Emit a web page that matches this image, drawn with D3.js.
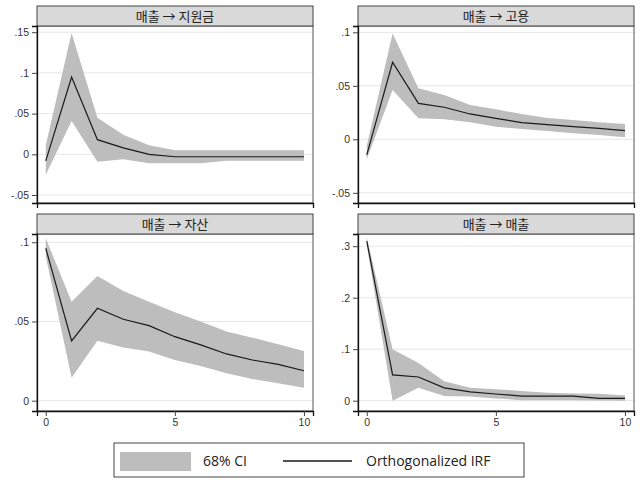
<!DOCTYPE html>
<html>
<head>
<meta charset="utf-8">
<script src="https://cdn.jsdelivr.net/npm/d3@7"></script>
<style>
  body { margin: 0; background: #fff; }
  svg { display: block; }
  .tick text { font-family: 'Liberation Sans', Arial, sans-serif; font-size: 10.5px; fill: #333; }
</style>
</head>
<body>
<div class="canvas"></div>
<script>
const steps = [0, 1, 2, 3, 4, 5, 6, 7, 8, 9, 10]

// 매출 -> 지원금
const grantIrf = [-0.008, 0.095, 0.018, 0.008, 0.0, -0.003, -0.003, -0.003, -0.003, -0.003, -0.003]
const grantLo = [-0.025, 0.041, -0.009, -0.006, -0.011, -0.011, -0.011, -0.008, -0.008, -0.008, -0.008]
const grantHi = [0.011, 0.149, 0.045, 0.024, 0.011, 0.005, 0.005, 0.005, 0.005, 0.005, 0.005]

// 매출 -> 고용
const jobsIrf = [-0.0146, 0.072, 0.0336, 0.030, 0.0237, 0.0196, 0.0156, 0.0137, 0.0118, 0.0103, 0.0081]
const jobsLo = [-0.0187, 0.046, 0.0196, 0.0187, 0.0159, 0.0118, 0.0097, 0.0078, 0.0056, 0.004, 0.0019]
const jobsHi = [-0.0062, 0.099, 0.0477, 0.0414, 0.032, 0.028, 0.0237, 0.020, 0.018, 0.016, 0.0143]

// 매출 -> 자산
const assetIrf = [0.0962, 0.0377, 0.0583, 0.0514, 0.0474, 0.0404, 0.0352, 0.0295, 0.0257, 0.0229, 0.0189]
const assetLo = [0.091, 0.0145, 0.0379, 0.0335, 0.031, 0.0257, 0.0219, 0.0173, 0.0137, 0.011, 0.0082]
const assetHi = [0.1025, 0.0625, 0.0787, 0.0693, 0.0625, 0.0558, 0.050, 0.0436, 0.0398, 0.0356, 0.0314]

// 매출 -> 매출
const salesIrf = [0.31, 0.05, 0.046, 0.025, 0.017, 0.013, 0.009, 0.009, 0.009, 0.0045, 0.0045]
const salesLo = [0.302, 0.0, 0.025, 0.009, 0.008, 0.0045, 0.001, 0.001, 0.001, 0.0006, 0.0]
const salesHi = [0.318, 0.10, 0.073, 0.038, 0.025, 0.022, 0.019, 0.0155, 0.014, 0.0135, 0.010]

const xTicks = [0, 5, 10]

const panels = [
  {title: '매출 → 지원금', irf: grantIrf, lo: grantLo, hi: grantHi,
    yDomain: [-0.0598, 0.1576], yTicks: [-0.05, 0, 0.05, 0.1, 0.15]},
  {title: '매출 → 고용', irf: jobsIrf, lo: jobsLo, hi: jobsHi,
    yDomain: [-0.0595, 0.1059], yTicks: [-0.05, 0, 0.05, 0.1]},
  {title: '매출 → 자산', irf: assetIrf, lo: assetLo, hi: assetHi,
    yDomain: [-0.0065, 0.1052], yTicks: [0, 0.05, 0.1]},
  {title: '매출 → 매출', irf: salesIrf, lo: salesLo, hi: salesHi,
    yDomain: [-0.02, 0.3237], yTicks: [0, 0.1, 0.2, 0.3]}
]

const width = 642
const height = 480
const cols = [{left: 37, right: 313}, {left: 358, right: 634}]
const rows = [{headerTop: 6, top: 26, bottom: 203}, {headerTop: 214, top: 234, bottom: 411}]

const bandColor = '#bdbdbd'
const lineColor = '#1a1a1a'

const svg = d3.select('.canvas')
  .append('svg')
  .attr('width', width)
  .attr('height', height)

// Stata-style labels: ".05", "-.05", "0"
const stataFormat = v => {
  if (Math.abs(v) < 1e-9) return '0'
  return String(+v.toFixed(3)).replace(/^(-?)0\./, '$1.')
}

panels.forEach((panel, i) => {
  const col = cols[i % 2]
  const row = rows[Math.floor(i / 2)]
  const isBottom = i >= 2

  const x = d3.scaleLinear().domain([-0.34, 10.35]).range([col.left, col.right])
  const y = d3.scaleLinear().domain(panel.yDomain).range([row.bottom, row.top])

  const g = svg.append('g')

  // grid
  g.append('g')
    .selectAll('line')
    .data(panel.yTicks)
    .join('line')
    .attr('x1', col.left)
    .attr('x2', col.right)
    .attr('y1', d => y(d))
    .attr('y2', d => y(d))
    .attr('stroke', '#e6e6e6')
    .attr('stroke-width', 1)

  const area = d3.area()
    .x((d, j) => x(steps[j]))
    .y0((d, j) => y(panel.lo[j]))
    .y1((d, j) => y(panel.hi[j]))

  g.append('path')
    .datum(steps)
    .attr('d', area)
    .attr('fill', bandColor)

  const line = d3.line()
    .x((d, j) => x(steps[j]))
    .y(d => y(d))

  g.append('path')
    .datum(panel.irf)
    .attr('d', line)
    .attr('fill', 'none')
    .attr('stroke', lineColor)
    .attr('stroke-width', 1.2)

  // frame
  g.append('rect')
    .attr('x', col.left)
    .attr('y', row.top)
    .attr('width', col.right - col.left)
    .attr('height', row.bottom - row.top)
    .attr('fill', 'none')
    .attr('stroke', '#555')
    .attr('stroke-width', 1)

  // header strip
  g.append('rect')
    .attr('x', col.left)
    .attr('y', row.headerTop)
    .attr('width', col.right - col.left)
    .attr('height', row.top - row.headerTop)
    .attr('fill', '#d9d9d9')
    .attr('stroke', '#444')
    .attr('stroke-width', 1)

  g.append('text')
    .attr('x', (col.left + col.right) / 2)
    .attr('y', (row.headerTop + row.top) / 2 + 5)
    .attr('text-anchor', 'middle')
    .attr('font-family', "'Noto Sans CJK KR', sans-serif")
    .attr('font-size', 13)
    .attr('fill', '#222')
    .text(panel.title)

  // y axis
  const yAxis = g.append('g')
    .attr('transform', `translate(${col.left}, 0)`)
    .call(d3.axisLeft(y).tickValues(panel.yTicks).tickFormat(stataFormat).tickSize(5).tickPadding(3))
  yAxis.select('.domain').attr('stroke', '#111').attr('stroke-width', 1.3)
  yAxis.selectAll('.tick line').attr('stroke', '#444')

  // x axis
  const xAxis = g.append('g')
    .attr('transform', `translate(0, ${row.bottom})`)
    .call(d3.axisBottom(x).tickValues(isBottom ? xTicks : []).tickSize(5).tickPadding(3))
  xAxis.select('.domain').attr('stroke', '#111').attr('stroke-width', 1.3)
  xAxis.selectAll('.tick line').attr('stroke', '#444')
})

// legend
const legend = svg.append('g')

legend.append('rect')
  .attr('x', 114)
  .attr('y', 443)
  .attr('width', 410)
  .attr('height', 34)
  .attr('fill', '#fff')
  .attr('stroke', '#444')
  .attr('stroke-width', 1)

legend.append('rect')
  .attr('x', 120)
  .attr('y', 452)
  .attr('width', 71)
  .attr('height', 19)
  .attr('fill', bandColor)

legend.append('text')
  .attr('x', 203)
  .attr('y', 466)
  .attr('font-family', "'Open Sans', 'Noto Sans', sans-serif")
  .attr('font-size', 14)
  .attr('fill', '#222')
  .text('68% CI')

legend.append('line')
  .attr('x1', 283)
  .attr('x2', 352)
  .attr('y1', 461)
  .attr('y2', 461)
  .attr('stroke', lineColor)
  .attr('stroke-width', 1.5)

legend.append('text')
  .attr('x', 366)
  .attr('y', 466)
  .attr('font-family', "'Open Sans', 'Noto Sans', sans-serif")
  .attr('font-size', 14)
  .attr('fill', '#222')
  .text('Orthogonalized IRF')
</script>
</body>
</html>
